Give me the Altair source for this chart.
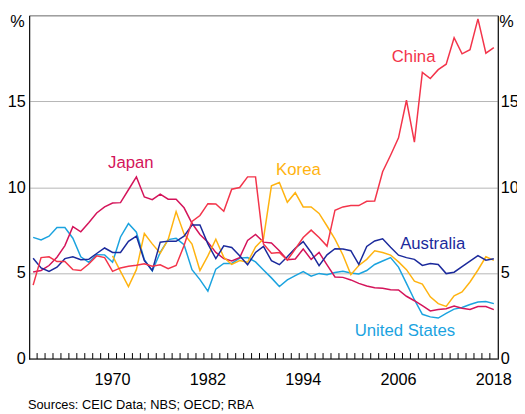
import altair as alt
import pandas as pd

# ---------------- data ----------------
years = list(range(1960, 2019))
china = [4.3, 5.9, 5.95, 5.67, 5.67, 5.2, 5.15, 5.53, 6.0, 5.9,
         5.1, 5.3, 5.4, 5.45, 5.54, 5.4, 5.48, 5.25, 5.44, 6.6,
         8.0, 8.35, 9.04, 9.02, 8.6, 9.88, 9.98, 10.6, 10.6, 6.7,
         6.15, 6.2, 5.75, 6.4, 7.07, 7.5, 7.07, 6.57, 8.66, 8.85,
         8.93, 8.93, 9.18, 9.2, 10.9, 11.86, 12.87, 15.06, 12.62, 16.68,
         16.32, 16.84, 17.16, 18.7, 17.76, 18.0, 19.8, 17.8, 18.12]
japan = [5.06, 5.15, 5.44, 5.92, 6.6, 7.7, 7.4, 7.93, 8.5, 8.85,
         9.08, 9.1, 9.85, 10.6, 9.43, 9.27, 9.6, 9.3, 9.3, 8.8,
         7.9, 7.25, 6.8, 6.2, 5.85, 5.7, 5.9, 6.9, 7.25, 6.8,
         6.75, 6.3, 5.77, 5.82, 6.4, 5.8, 6.2, 5.48, 4.77, 4.75,
         4.6, 4.4, 4.25, 4.15, 4.12, 4.03, 4.02, 3.65, 3.39, 3.1,
         2.8, 2.88, 2.92, 3.08, 2.95, 2.88, 3.05, 3.05, 2.87]
australia = [5.86, 5.3, 5.1, 5.34, 5.84, 5.95, 5.78, 5.8, 6.14, 6.46,
             6.2, 6.2, 6.85, 7.15, 5.73, 5.15, 6.8, 6.86, 6.85, 7.15,
             7.8, 7.8, 6.7, 5.84, 6.59, 6.49, 6.01, 5.48, 6.2, 6.55,
             5.72, 5.49, 5.95, 6.45, 6.83, 6.2, 5.43, 6.06, 6.42, 6.4,
             6.3, 5.5, 6.55, 6.87, 7.0, 6.5, 6.04, 5.9, 5.8, 5.45,
             5.56, 5.5, 4.97, 5.05, 5.38, 5.7, 6.02, 5.75, 5.83]
united_states = [7.08, 6.93, 7.15, 7.65, 7.65, 7.03, 5.95, 5.63, 6.07, 6.06,
                 5.63, 7.1, 7.88, 7.38, 5.78, 5.12, 6.2, 6.95, 7.02, 6.65,
                 5.2, 4.62, 3.95, 5.23, 5.56, 5.56, 5.87, 5.9, 5.65, 5.18,
                 4.72, 4.22, 4.6, 4.85, 5.08, 4.82, 4.98, 4.9, 5.03, 5.1,
                 5.0, 4.95, 5.15, 5.5, 5.7, 5.9, 5.35, 4.4, 3.45, 2.6,
                 2.45, 2.38, 2.65, 2.9, 3.0, 3.17, 3.32, 3.34, 3.22]
korea_years = list(range(1970, 2019))
korea = [6.0, 5.1, 4.22, 5.2, 7.3, 6.7, 6.15, 6.95, 8.58, 7.28,
         6.69, 5.15, 6.0, 6.97, 5.92, 5.5, 5.73, 5.63, 6.52, 7.0,
         10.08, 10.27, 9.12, 9.68, 8.85, 8.85, 8.47, 7.74, 6.97, 6.05,
         4.91, 5.44, 5.8, 6.3, 6.2, 6.05, 5.65, 5.2, 4.53, 4.36,
         3.62, 3.22, 3.06, 3.68, 3.9, 4.48, 5.18, 5.95, 5.74]

series_names = ["United States", "Japan", "Korea", "Australia", "China"]
series_colors = ["#1ba3df", "#d4145a", "#ffb310", "#1b2a9c", "#f3344a"]

label_names = ["China", "Japan", "Korea", "Australia", "United States"]
label_x = [2007.9, 1972.3, 1993.4, 2010.3, 2006.8]
label_y = [17.6, 11.4, 11.0, 6.68, 1.63]

x_tick_labels = [1970, 1982, 1994, 2006, 2018]
y_ticks = [0, 5, 10, 15]
minor_ticks = [y + 0.5 for y in range(1960, 2018)]

title_text = "Proportion of GDP"
source_text = "Sources: CEIC Data; NBS; OECD; RBA"
unit_text = "%"

# ---------------- build tables ----------------
series_data = {
    "United States": (years, united_states),
    "Japan": (years, japan),
    "Korea": (korea_years, korea),
    "Australia": (years, australia),
    "China": (years, china),
}
rows = []
for name, (ys, vals) in series_data.items():
    for yr, v in zip(ys, vals):
        rows.append({"series": name, "year": yr, "value": v})
df = pd.DataFrame(rows)

labels_df = pd.DataFrame({"series": label_names, "year": label_x, "value": label_y})
ticks_df = pd.DataFrame({"year": minor_ticks})
xlab_df = pd.DataFrame({"year": x_tick_labels,
                        "txt": [str(v) for v in x_tick_labels]})
base_df = pd.DataFrame({"value": [0.0]})

FONT = "Liberation Sans"
W, H = 476, 349
TICK_LEN = 6
xscale = alt.Scale(domain=[1959.5, 2018.5], nice=False, zero=False)
yscale = alt.Scale(domain=[0, 20], nice=False, zero=False)
cscale = alt.Scale(domain=series_names, range=series_colors)

y_left = alt.Axis(orient="left", values=y_ticks, ticks=False,
                  grid=True, gridColor="#b5b5b5", gridWidth=1,
                  domainColor="black", labelPadding=4, labelFontSize=16.5,
                  labelColor="black", labelFont=FONT, title=None)
y_right = alt.Axis(orient="right", values=y_ticks, ticks=False,
                   grid=False, domainColor="black", labelPadding=2.5,
                   labelFontSize=16.5, labelColor="black", labelFont=FONT,
                   title=None)

layers = []
for i, name in enumerate(series_names):
    yax = y_left if i == 0 else (y_right if i == 1 else None)
    layers.append(
        alt.Chart(df[df.series == name]).mark_line(strokeWidth=1.5).encode(
            x=alt.X("year:Q", scale=xscale, axis=None),
            y=alt.Y("value:Q", scale=yscale, axis=yax),
            color=alt.Color("series:N", scale=cscale, legend=None),
        )
    )

# bottom axis line
base = alt.Chart(base_df).mark_rule(color="black", strokeWidth=1).encode(
    y=alt.Y("value:Q", scale=yscale, axis=None),
)

# minor year ticks (inside the plot, pointing up from the axis)
ticks = alt.Chart(ticks_df).mark_rule(color="black", strokeWidth=1).encode(
    x=alt.X("year:Q", scale=xscale, axis=None),
    y=alt.value(H),
    y2=alt.value(H - TICK_LEN),
)

# year labels under the axis
xlabels = alt.Chart(xlab_df).mark_text(
    font=FONT, fontSize=16.5, align="center", baseline="top", color="black"
).encode(
    x=alt.X("year:Q", scale=xscale, axis=None),
    y=alt.value(H + 13.5),
    text="txt:N",
)

labels = alt.Chart(labels_df).mark_text(font=FONT, fontSize=17, align="center",
                                        baseline="middle").encode(
    x=alt.X("year:Q", scale=xscale, axis=None),
    y=alt.Y("value:Q", scale=yscale, axis=None),
    text="series:N",
    color=alt.Color("series:N", scale=cscale, legend=None),
)

unit_left = alt.Chart(pd.DataFrame({"t": [unit_text]})).mark_text(
    font=FONT, fontSize=16.5, align="right", baseline="middle", color="black"
).encode(x=alt.value(-4.5), y=alt.value(7), text="t:N")
unit_right = alt.Chart(pd.DataFrame({"t": [unit_text]})).mark_text(
    font=FONT, fontSize=16.5, align="left", baseline="middle", color="black"
).encode(x=alt.value(W + 1.5), y=alt.value(7), text="t:N")

source = alt.Chart(pd.DataFrame({"t": [source_text]})).mark_text(
    font=FONT, fontSize=13, align="left", baseline="alphabetic", color="black"
).encode(x=alt.value(-1.2), y=alt.value(399.5), text="t:N")

chart = alt.layer(*layers, base, ticks, xlabels, labels, unit_left, unit_right,
                  source).properties(
    width=W, height=H,
    autosize=alt.AutoSizeParams(type="none"),
    padding={"left": 21.5, "top": 4.3, "right": 19.5, "bottom": 52.7},
    title=alt.TitleParams(title_text, font=FONT, fontSize=17, fontWeight="normal",
                          anchor="middle", baseline="alphabetic", offset=8.5,
                          dx=-5, color="black"),
).configure_view(stroke="#666666", strokeWidth=1)

chart.save("out.html", embed_options={"renderer": "svg", "actions": False})
